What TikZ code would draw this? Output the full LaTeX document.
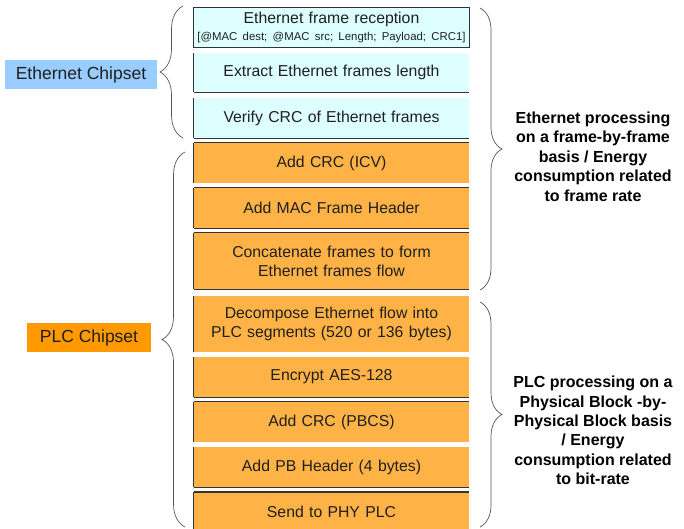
\documentclass[tikz,border=0pt]{standalone}
\usepackage{fontspec}
\setmainfont{Liberation Sans}
\usetikzlibrary{decorations.pathreplacing}
\definecolor{ethfill}{HTML}{DDFFFF}
\definecolor{plcfill}{HTML}{FFB347}
\definecolor{ethlabel}{HTML}{99CCFF}
\definecolor{plclabel}{HTML}{FF9900}
\definecolor{edge}{HTML}{333333}
\definecolor{bracecol}{HTML}{555555}
\tikzset{
  stepbox/.style={inner sep=0pt, minimum width=275pt, text width=270pt, align=center,
    font=\fontsize{15.8}{19}\selectfont, text=black!88},
  ethbox/.style={stepbox, fill=ethfill},
  plcbox/.style={stepbox, fill=plcfill},
  rim/.style={draw=edge, line width=1.1pt},
  chiplabel/.style={inner sep=0pt, font=\fontsize{17.5}{20}\selectfont, text=black!88},
  bracestyle/.style={draw=bracecol, line width=0.7pt, decorate, decoration={brace, amplitude=23pt}},
  sidetext/.style={align=center, font=\bfseries\fontsize{16}{19.4}\selectfont, text=black}
}
\begin{document}
\begin{tikzpicture}[x=1pt,y=-1pt]
\useasboundingbox (0,0) rectangle (684,529);
\begin{scope}
\clip (0,0) rectangle (684,529);
% boxes
\node[ethbox, minimum height=39pt] (b1) at (331.5,27.5) {Ethernet frame reception\\[-2pt]\makebox[270pt]{\fontsize{11.4}{13}\selectfont[@MAC dest; @MAC src; Length; Payload; CRC1]}};
\node[ethbox, minimum height=39pt] (b2) at (331.5,72.5) {Extract Ethernet frames length};
\node[ethbox, minimum height=40pt] (b3) at (331.5,118) {Verify CRC of Ethernet frames};
\node[plcbox, minimum height=40pt] (b4) at (331.5,163) {Add CRC (ICV)};
\node[plcbox, minimum height=40pt] (b5) at (331.5,208) {Add MAC Frame Header};
\node[plcbox, minimum height=56pt] (b6) at (331.5,261) {Concatenate frames to form\\Ethernet frames flow};
\node[plcbox, minimum height=56pt] (b7) at (331.5,324) {Decompose Ethernet flow into\\PLC segments (520 or 136 bytes)};
\node[plcbox, minimum height=40pt] (b8) at (331.5,377) {Encrypt AES-128};
\node[plcbox, minimum height=40pt] (b9) at (331.5,422) {Add CRC (PBCS)};
\node[plcbox, minimum height=40pt] (b10) at (331.5,467) {Add PB Header (4 bytes)};
\node[plcbox, minimum height=40pt, anchor=north] (b11) at (331.5,492) {\raisebox{1.5pt}{Send to PHY PLC}};
% borders
\draw[rim] (b1.north west) rectangle (b1.south east);
\foreach \b in {b2,b3,b4,b5,b6,b7,b8,b9,b10,b11} \draw[rim] (\b.north west) -- (\b.south west);
\foreach \b in {b2,b3,b5,b6,b8,b10} \draw[rim] (\b.south west) -- (\b.south east);
\foreach \b in {b4,b5,b6,b9,b11} \draw[rim] (\b.north west) -- (\b.north east);
\end{scope}
% chipset labels
\node[chiplabel, fill=ethlabel, minimum width=152pt, minimum height=29pt] (ethc) at (81,74.5) {Ethernet Chipset};
\node[chiplabel, fill=plclabel, minimum width=124pt, minimum height=29pt] (plcc) at (89,337.5) {PLC Chipset};
% braces
\coordinate (lb1s) at (183,138);
\coordinate (lb1e) at (183,6);
\coordinate (lb2s) at (185,527);
\coordinate (lb2e) at (185,152);
\coordinate (rb1s) at (480,8);
\coordinate (rb1e) at (480,290);
\coordinate (rb2s) at (480,302);
\coordinate (rb2e) at (480,527);
\draw[bracestyle] (lb1s) -- (lb1e);
\draw[bracestyle] (lb2s) -- (lb2e);
\draw[bracestyle, decoration={amplitude=22pt}] (rb1s) -- (rb1e);
\draw[bracestyle, decoration={amplitude=22pt}] (rb2s) -- (rb2e);
% side texts
\node[sidetext] (ethtxt) at (593,156.5) {Ethernet processing\\on a frame-by-frame\\basis / Energy\\consumption related\\to frame rate};
\node[sidetext] (plctxt) at (593,430.5) {PLC processing on a\\Physical Block -by-\\Physical Block basis\\/ Energy\\consumption related\\to bit-rate};
\end{tikzpicture}
\end{document}
